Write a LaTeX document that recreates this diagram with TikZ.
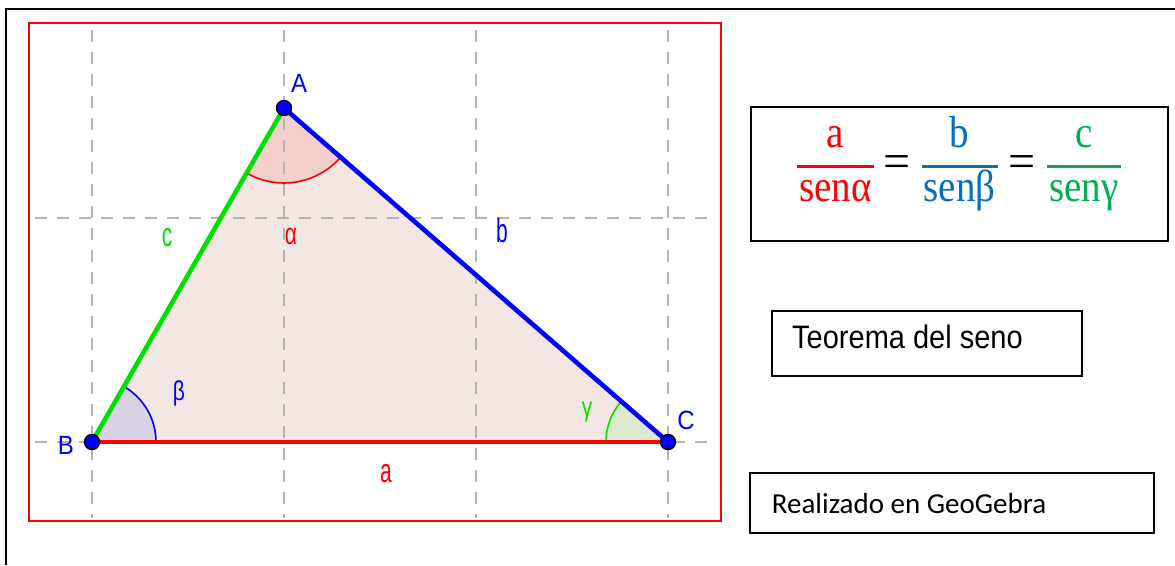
\documentclass[tikz,border=0pt]{standalone}
\usepackage{fontspec}
\usepackage{graphicx}
\newfontfamily\arialf{Liberation Sans}
\newfontfamily\calibf{Carlito}
\newfontfamily\cambf{Liberation Serif}
\definecolor{trifill}{HTML}{F3E7E3}
\definecolor{alphafill}{HTML}{F2CFCB}
\definecolor{betafill}{HTML}{D9D1E4}
\definecolor{gammafill}{HTML}{DDE9CF}
\definecolor{gridgray}{HTML}{B4B4B4}
\definecolor{geored}{HTML}{FF0000}
\definecolor{geoblue}{HTML}{0000FF}
\definecolor{geogreen}{HTML}{00E000}
\definecolor{fred}{HTML}{FF0000}
\definecolor{fblue}{HTML}{0070C0}
\definecolor{fgreen}{HTML}{00B050}
\newcommand{\tallt}[2]{\scalebox{1}[#1]{#2}}
\begin{document}
\begin{tikzpicture}[x=1pt,y=1pt,
  gridline/.style={draw=gridgray, line width=1.5pt, dash pattern=on 12pt off 10pt},
  ptlabel/.style={text=geoblue, font=\arialf\fontsize{24}{24}\selectfont, anchor=base, inner sep=0pt},
  sidelabel/.style={font=\arialf\fontsize{21}{21}\selectfont, anchor=base, inner sep=0pt},
  vertex/.style={circle, fill=geoblue, draw=black, line width=1.4pt, minimum size=15pt, inner sep=0pt},
  edge/.style={line width=4.6pt},
  anglearc/.style={line width=1.6pt},
  boxframe/.style={draw=black, line width=2pt},
  frac/.style={font=\cambf\fontsize{39}{39}\selectfont, anchor=base, inner sep=0pt},
  fbar/.style={line width=3pt},
  eqsign/.style={font=\cambf\fontsize{48}{48}\selectfont, inner sep=0pt}
]
\useasboundingbox (0,0) rectangle (1175,565);
% outer frame
\coordinate (fb) at (6,0);
\coordinate (ftl) at (6,556);
\coordinate (fr) at (1175,556);
\draw[line width=2pt] (fb) -- (ftl) -- (fr);
% red frame
\node[draw=geored, line width=1.5pt, minimum width=692pt, minimum height=498pt, inner sep=0pt] (geo) at (375,293) {};
% vertices
\coordinate (A) at (284,457);
\coordinate (B) at (92,123);
\coordinate (C) at (668,123);
% triangle fill
\fill[trifill] (A) -- (B) -- (C) -- cycle;
% angle wedges
\fill[alphafill] (A) -- ++(240.11:75) arc[start angle=240.11, end angle=318.99, radius=75] -- cycle;
\fill[betafill] (B) -- ++(0:64) arc[start angle=0, end angle=60.11, radius=64] -- cycle;
\fill[gammafill] (C) -- ++(138.99:62) arc[start angle=138.99, end angle=180, radius=62] -- cycle;
% grid
\foreach \gx/\nm in {92/g1,284/g2,476/g3,668/g4}{
  \coordinate (\nm t) at (\gx,535);
  \coordinate (\nm b) at (\gx,47);
  \draw[gridline] (\nm t) -- (\nm b);
}
\coordinate (h1l) at (35,347); \coordinate (h1r) at (715,347);
\coordinate (h2l) at (35,123); \coordinate (h2r) at (715,123);
\draw[gridline] (h1l) -- (h1r);
\draw[gridline] (h2l) -- (h2r);
% angle arcs
\draw[anglearc, geored] (A) ++(240.11:75) arc[start angle=240.11, end angle=318.99, radius=75];
\draw[anglearc, geoblue] (B) ++(0:64) arc[start angle=0, end angle=60.11, radius=64];
\draw[anglearc, geogreen] (C) ++(138.99:62) arc[start angle=138.99, end angle=180, radius=62];
% edges
\draw[edge, geored] (B) -- (C);
\draw[edge, geoblue] (A) -- (C);
\draw[edge, geogreen] (B) -- (A);
% points
\node[vertex] (pA) at (A) {};
\node[vertex] (pB) at (B) {};
\node[vertex] (pC) at (C) {};
% point labels
\node[ptlabel] (lA) at (299,472) {\tallt{1.1}{A}};
\node[ptlabel] (lB) at (66,110) {\tallt{1.1}{B}};
\node[ptlabel] (lC) at (686,135) {\tallt{1.1}{C}};
% side and angle labels
\node[sidelabel, text=geored] (la) at (386,83) {\tallt{1.6}{a}};
\node[sidelabel, text=geoblue] (lb) at (502,322) {\tallt{1.6}{b}};
\node[sidelabel, text=geogreen] (lc) at (167,318) {\tallt{1.6}{c}};
\node[sidelabel, text=geored] (lal) at (291,320) {\tallt{1.45}{α}};
\node[sidelabel, text=geoblue] (lbe) at (179,164) {\tallt{1.3}{β}};
\node[sidelabel, text=geogreen] (lga) at (587,148) {\tallt{1.3}{γ}};
% formula box
\node[boxframe, minimum width=417pt, minimum height=134pt, inner sep=0pt] (fbox) at (959.5,391.3) {};
\node[frac, text=fred] (n1) at (835.5,417) {\tallt{1.15}{a}};
\node[frac, text=fblue] (n2) at (959.7,417) {\tallt{1.15}{b}};
\node[frac, text=fgreen] (n3) at (1083.7,417) {\tallt{1.15}{c}};
\node[frac, text=fred] (d1) at (835.5,363.3) {\tallt{1.15}{senα}};
\node[frac, text=fblue] (d2) at (959.7,363.3) {\tallt{1.15}{senβ}};
\node[frac, text=fgreen] (d3) at (1083.7,363.3) {\tallt{1.15}{senγ}};
\coordinate (b1l) at (797,398.3); \coordinate (b1r) at (874,398.3);
\coordinate (b2l) at (921.7,398.3); \coordinate (b2r) at (997.7,398.3);
\coordinate (b3l) at (1046.7,398.3); \coordinate (b3r) at (1120.7,398.3);
\draw[fbar, fred] (b1l) -- (b1r);
\draw[fbar, fblue] (b2l) -- (b2r);
\draw[fbar, fgreen] (b3l) -- (b3r);
\node[eqsign] (eq1) at (897.5,398) {=};
\node[eqsign] (eq2) at (1022.5,398) {=};
% title box
\node[boxframe, minimum width=310.3pt, minimum height=64.7pt, inner sep=0pt] (tbox) at (926.85,221.65) {};
\node[font=\arialf\fontsize{29}{29}\selectfont, anchor=base west, inner sep=0pt] (ttext) at (792,216) {\tallt{1.12}{Teorema del seno}};
% credit box
\node[boxframe, minimum width=404pt, minimum height=60pt, inner sep=0pt] (cbox) at (952,61.7) {};
\node[font=\calibf\fontsize{29}{29}\selectfont, anchor=base west, inner sep=0pt] (ctext) at (771.7,51.7) {Realizado en GeoGebra};
\end{tikzpicture}
\end{document}
